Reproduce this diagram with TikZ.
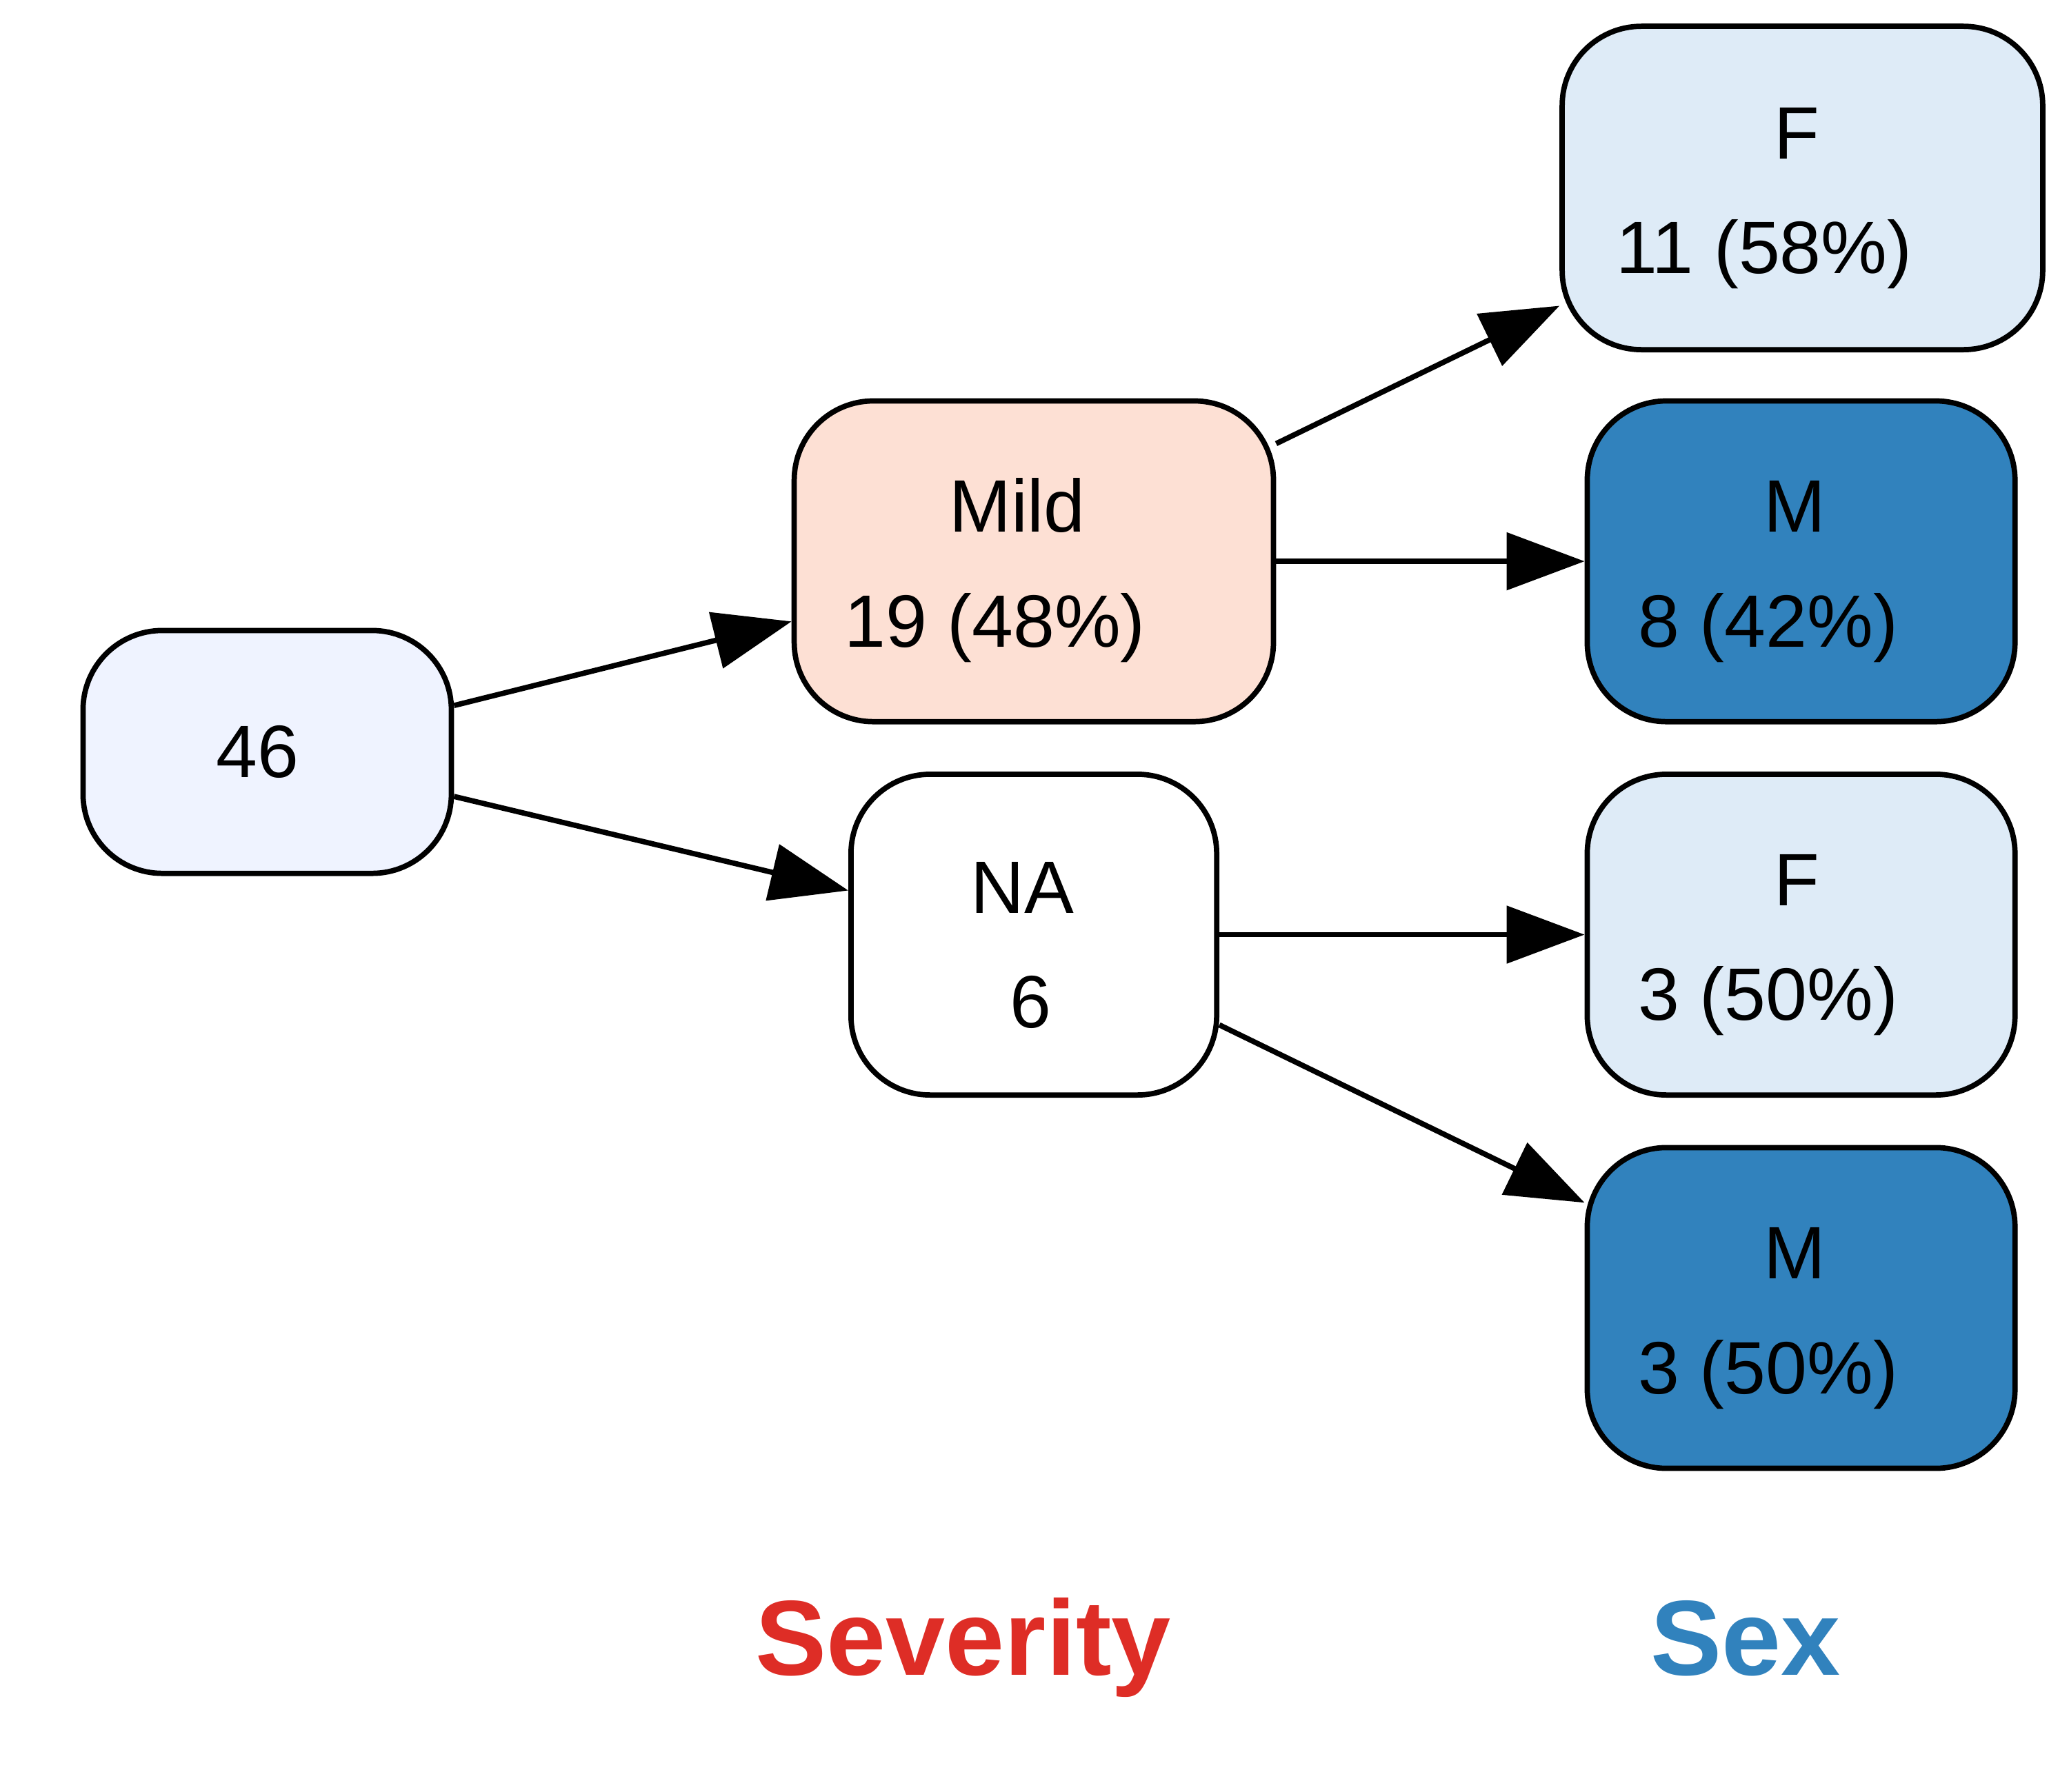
\documentclass[tikz,border=0pt]{standalone}
\usepackage{fontspec}
\setmainfont{Liberation Sans}
\usetikzlibrary{arrows.meta}
\definecolor{rootfill}{HTML}{EFF3FF}
\definecolor{mildfill}{HTML}{FDE0D4}
\definecolor{ffill}{HTML}{DEEBF7}
\definecolor{mfill}{HTML}{3182BD}
\definecolor{sevred}{HTML}{DE2D26}
\newcommand\toprule{\rule{0pt}{15.5pt}}
\begin{document}
\begin{tikzpicture}[x=0.01cm,y=-0.01cm,
    box/.style={draw,line width=1.15pt,rounded corners=0.6cm,align=center,
        minimum height=2.43cm,font=\fontsize{16}{24.7}\selectfont},
    link/.style={line width=1.15pt,-{Triangle[length=0.59cm,width=0.43cm]}},
    axis/.style={anchor=base,font=\fontsize{23}{27}\selectfont\bfseries}]
    \useasboundingbox (0,0) rectangle (1568,1358);
    % first level
    \node[box,fill=rootfill,minimum width=2.79cm,minimum height=1.84cm] (root) at (202.5,570)
        {46\hspace*{0.15cm}};
    % severity
    \node[box,fill=mildfill,minimum width=3.63cm] (mild) at (783.5,425.5)
        {\toprule Mild\hspace*{0.25cm}\\19 (48\%)\hspace*{0.59cm}};
    \node[box,fill=white,minimum width=2.77cm] (na) at (783.5,708.5)
        {\toprule NA\hspace*{0.17cm}\\6\hspace*{0.05cm}};
    % sex
    \node[box,fill=ffill,minimum width=3.64cm,minimum height=2.45cm] (mildf) at (1366,142.5)
        {\toprule F\hspace*{0.08cm}\\11 (58\%)\hspace*{0.58cm}};
    \node[box,fill=mfill,minimum width=3.24cm] (mildm) at (1365,425.5)
        {\toprule M\hspace*{0.10cm}\\8 (42\%)\hspace*{0.50cm}};
    \node[box,fill=ffill,minimum width=3.24cm] (naf) at (1365,708.5)
        {\toprule F\hspace*{0.06cm}\\3 (50\%)\hspace*{0.50cm}};
    \node[box,fill=mfill,minimum width=3.24cm] (nam) at (1365,991.5)
        {\toprule M\hspace*{0.10cm}\\3 (50\%)\hspace*{0.50cm}};
    \foreach \from/\to in {root/mild,root/na,mild/mildf,mild/mildm,na/naf,na/nam}
        \draw[link] (\from) -- (\to);
    \node[axis,text=sevred] (sevlabel) at (730,1270) {Severity};
    \node[axis,text=mfill] (sexlabel) at (1323,1270) {Sex};
\end{tikzpicture}
\end{document}
